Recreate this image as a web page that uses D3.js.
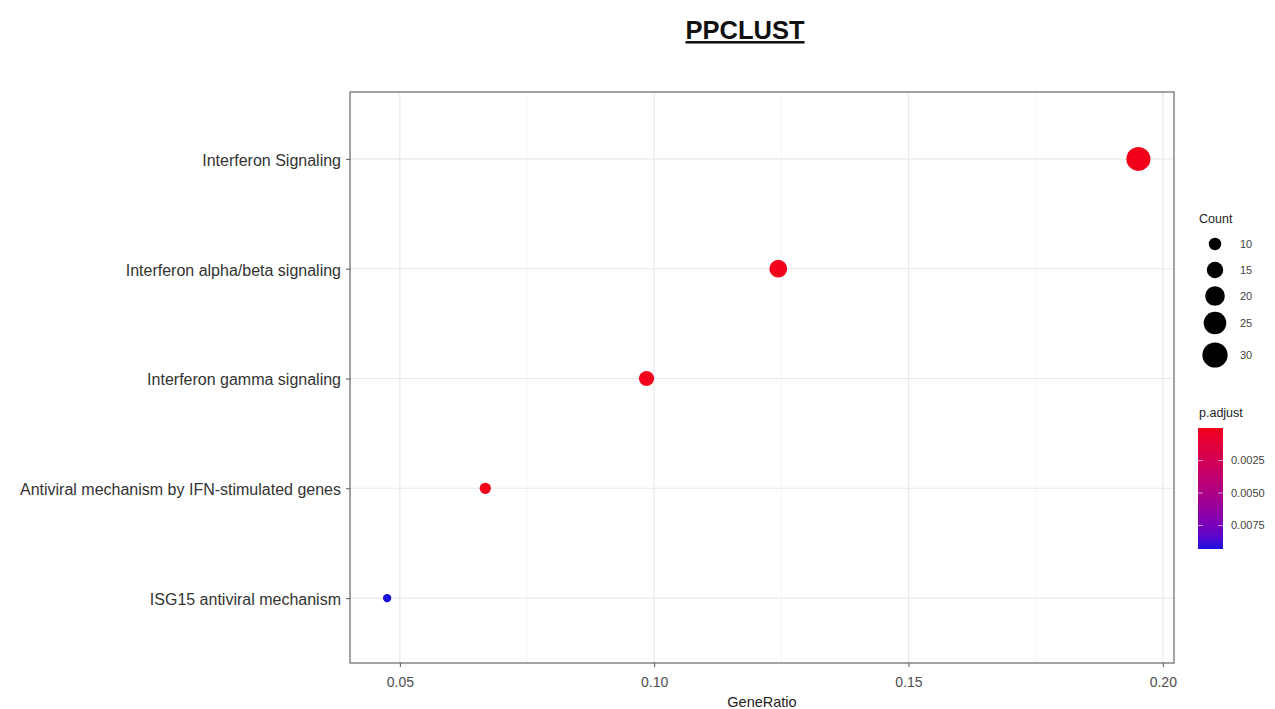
<!DOCTYPE html>
<html>
<head>
<meta charset="utf-8">
<script src="https://cdn.jsdelivr.net/npm/d3@7"></script>
<style>
  body { margin: 0; background: #fff; }
  svg text { font-family: "Liberation Sans", Arial, sans-serif; }
</style>
</head>
<body>
<div id="chart"></div>
<script>
// Data
const pathways = [
    "Interferon Signaling",
    "Interferon alpha/beta signaling",
    "Interferon gamma signaling",
    "Antiviral mechanism by IFN-stimulated genes",
    "ISG15 antiviral mechanism"
];
const geneRatio = [0.1952, 0.1244, 0.0985, 0.0668, 0.0475];
const counts = [30, 19, 15, 10, 7];
const pAdjust = [0.00001, 0.00002, 0.00003, 0.00005, 0.0093];

const xTicks = [0.05, 0.10, 0.15, 0.20];
const xMinor = [0.075, 0.125, 0.175];
const countBreaks = [10, 15, 20, 25, 30];
const pBreaks = [0.0025, 0.0050, 0.0075];

const width = 1275;
const height = 709;
const margin = { top: 92, right: 101, bottom: 46, left: 350 };

const svg = d3.select("#chart")
    .append("svg")
    .attr("width", width)
    .attr("height", height);

const x = d3.scaleLinear()
    .domain([0.0402, 0.2022])
    .range([margin.left, width - margin.right]);

const y = d3.scalePoint()
    .domain(pathways)
    .range([margin.top, height - margin.bottom])
    .padding(0.6);

const r = d3.scaleLinear()
    .domain([Math.sqrt(7), Math.sqrt(30)])
    .range([4.2, 12]);
const rad = d => r(Math.sqrt(d));

const color = d3.scaleLinear()
    .domain([0, 0.0093])
    .range(["#f2001a", "#1a10e0"])
    .interpolate(d3.interpolateLab);

// panel
svg.append("rect")
    .attr("x", margin.left)
    .attr("y", margin.top)
    .attr("width", width - margin.right - margin.left)
    .attr("height", height - margin.bottom - margin.top)
    .attr("fill", "#fff");

// minor grid
svg.append("g").selectAll("line")
    .data(xMinor)
    .join("line")
    .attr("x1", d => x(d)).attr("x2", d => x(d))
    .attr("y1", margin.top).attr("y2", height - margin.bottom)
    .attr("stroke", "#f3f3f3").attr("stroke-width", 0.8);

// major grid
svg.append("g").selectAll("line")
    .data(xTicks)
    .join("line")
    .attr("x1", d => x(d)).attr("x2", d => x(d))
    .attr("y1", margin.top).attr("y2", height - margin.bottom)
    .attr("stroke", "#e8e8e8").attr("stroke-width", 1.1);

svg.append("g").selectAll("line")
    .data(pathways)
    .join("line")
    .attr("x1", margin.left).attr("x2", width - margin.right)
    .attr("y1", d => y(d) + 1).attr("y2", d => y(d) + 1)
    .attr("stroke", "#e8e8e8").attr("stroke-width", 1.1);

// axes
const xAxis = svg.append("g")
    .attr("transform", `translate(0,${height - margin.bottom})`)
    .call(d3.axisBottom(x).tickValues(xTicks).tickFormat(d3.format(".2f")).tickSize(4).tickPadding(10));
xAxis.select(".domain").remove();
xAxis.selectAll("line").attr("stroke", "#555");
xAxis.selectAll("text").attr("font-size", 14).attr("fill", "#4d4d4d");

const yAxis = svg.append("g")
    .attr("transform", `translate(${margin.left},1)`)
    .call(d3.axisLeft(y).tickSize(4).tickPadding(5));
yAxis.select(".domain").remove();
yAxis.selectAll("line").attr("stroke", "#555");
yAxis.selectAll("text").attr("font-size", 16).attr("fill", "#333").attr("dy", "0.4em");

// panel border
svg.append("rect")
    .attr("x", margin.left)
    .attr("y", margin.top)
    .attr("width", width - margin.right - margin.left)
    .attr("height", height - margin.bottom - margin.top)
    .attr("fill", "none")
    .attr("stroke", "#666")
    .attr("stroke-width", 1.2);

// dots
svg.append("g").selectAll("circle")
    .data(pathways)
    .join("circle")
    .attr("cx", (d, i) => x(geneRatio[i]))
    .attr("cy", d => y(d) + 1)
    .attr("r", (d, i) => rad(counts[i]))
    .attr("fill", (d, i) => color(pAdjust[i]));

// axis title + plot title
svg.append("text")
    .attr("x", (margin.left + width - margin.right) / 2)
    .attr("y", 707)
    .attr("text-anchor", "middle")
    .attr("font-size", 14.5)
    .attr("fill", "#222")
    .text("GeneRatio");

svg.append("text")
    .attr("x", 745)
    .attr("y", 39)
    .attr("text-anchor", "middle")
    .attr("font-size", 25.5)
    .attr("font-weight", "bold")
    .attr("text-decoration", "underline")
    .attr("fill", "#111")
    .text("PPCLUST");

// size legend
const sizeLeg = svg.append("g");
sizeLeg.append("text")
    .attr("x", 1199).attr("y", 223)
    .attr("font-size", 12.5).attr("fill", "#222")
    .text("Count");
const legY = d3.scaleOrdinal().domain(countBreaks).range([244, 270, 296, 323, 355]);
sizeLeg.selectAll("circle")
    .data(countBreaks)
    .join("circle")
    .attr("cx", 1215)
    .attr("cy", d => legY(d))
    .attr("r", d => rad(d) + 0.6)
    .attr("fill", "#000");
sizeLeg.selectAll("text.lab")
    .data(countBreaks)
    .join("text")
    .attr("class", "lab")
    .attr("x", 1240)
    .attr("y", d => legY(d))
    .attr("dy", "0.35em")
    .attr("font-size", 11)
    .attr("fill", "#444")
    .text(d => d);

// colour bar legend
const barTop = 428, barH = 121, barX = 1198, barW = 25;
svg.append("text")
    .attr("x", 1199).attr("y", 417)
    .attr("font-size", 12.5).attr("fill", "#222")
    .text("p.adjust");

const defs = svg.append("defs");
const grad = defs.append("linearGradient")
    .attr("id", "pgrad")
    .attr("x1", "0%").attr("y1", "0%")
    .attr("x2", "0%").attr("y2", "100%");
grad.selectAll("stop")
    .data(d3.range(0, 1.0001, 0.1))
    .join("stop")
    .attr("offset", d => `${d * 100}%`)
    .attr("stop-color", d => color(d * 0.0093));

svg.append("rect")
    .attr("x", barX).attr("y", barTop)
    .attr("width", barW).attr("height", barH)
    .attr("fill", "url(#pgrad)");

const pScale = d3.scaleLinear().domain([0, 0.0093]).range([barTop, barTop + barH]);
const pTicks = svg.append("g");
pTicks.selectAll("line.l")
    .data(pBreaks)
    .join("line")
    .attr("class", "l")
    .attr("x1", barX).attr("x2", barX + 5)
    .attr("y1", d => pScale(d)).attr("y2", d => pScale(d))
    .attr("stroke", "#fff").attr("stroke-opacity", 0.6);
pTicks.selectAll("line.r")
    .data(pBreaks)
    .join("line")
    .attr("class", "r")
    .attr("x1", barX + barW - 5).attr("x2", barX + barW)
    .attr("y1", d => pScale(d)).attr("y2", d => pScale(d))
    .attr("stroke", "#fff").attr("stroke-opacity", 0.6);
pTicks.selectAll("text")
    .data(pBreaks)
    .join("text")
    .attr("x", 1231)
    .attr("y", d => pScale(d))
    .attr("dy", "0.35em")
    .attr("font-size", 11)
    .attr("fill", "#444")
    .text(d => d3.format(".4f")(d));
</script>
</body>
</html>
